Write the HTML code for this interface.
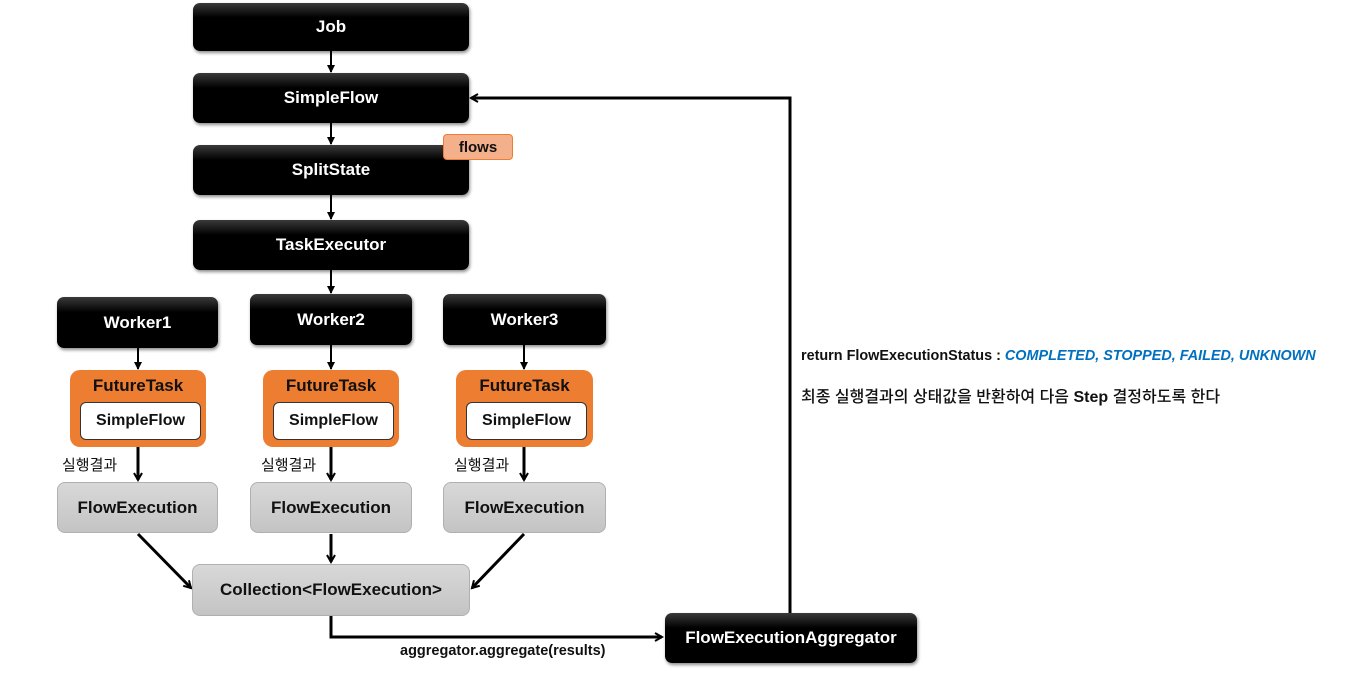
<!DOCTYPE html>
<html><head><meta charset="utf-8"><style>
html,body{margin:0;padding:0;background:#fff;}
body{width:1366px;height:691px;position:relative;overflow:hidden;font-family:"Liberation Sans","Noto Sans CJK KR",sans-serif;}
.b{position:absolute;box-sizing:border-box;display:flex;align-items:center;justify-content:center;font-weight:bold;font-size:17px;}
.k{background:linear-gradient(#3a3a3a 0%,#000 30%,#000 100%);color:#fff;border-radius:7px;box-shadow:1px 2px 3px rgba(0,0,0,.45);}
.g{background:linear-gradient(#d8d8d8,#c4c4c4);color:#111;border:1px solid #b0b0b0;border-radius:8px;}
.o{background:#ed7d31;border-radius:10px;align-items:flex-start;padding-top:6px;color:#111;}
.w{background:#fff;border:1.5px solid #333;border-radius:6px;color:#111;font-size:16px;}
.t{position:absolute;font-size:15px;color:#111;white-space:nowrap;}
svg{position:absolute;left:0;top:0;}
</style></head><body>
<svg width="1366" height="691">
<defs><marker id="a" markerWidth="10" markerHeight="10" refX="8" refY="5" orient="auto" markerUnits="userSpaceOnUse"><path d="M1,1 L8,5 L1,9" fill="none" stroke="#000" stroke-width="2"/></marker>
<marker id="s" markerWidth="8" markerHeight="8" refX="7" refY="4" orient="auto" markerUnits="userSpaceOnUse"><path d="M0,0 L8,4 L0,8Z" fill="#000"/></marker></defs>
<g stroke="#000" stroke-width="2" fill="none">
<line x1="331" y1="51" x2="331" y2="72" marker-end="url(#s)"/>
<line x1="331" y1="123" x2="331" y2="144" marker-end="url(#s)"/>
<line x1="331" y1="195" x2="331" y2="219" marker-end="url(#s)"/>
<line x1="331" y1="270" x2="331" y2="293" marker-end="url(#s)"/>
<line x1="138" y1="348" x2="138" y2="369" marker-end="url(#s)"/>
<line x1="331" y1="345" x2="331" y2="369" marker-end="url(#s)"/>
<line x1="524" y1="345" x2="524" y2="369" marker-end="url(#s)"/>
</g>
<g stroke="#000" stroke-width="3" fill="none">
<line x1="138" y1="447" x2="138" y2="480" marker-end="url(#a)"/>
<line x1="331" y1="447" x2="331" y2="480" marker-end="url(#a)"/>
<line x1="524" y1="447" x2="524" y2="480" marker-end="url(#a)"/>
<line x1="138" y1="534" x2="191" y2="588" marker-end="url(#a)"/>
<line x1="331" y1="534" x2="331" y2="562" marker-end="url(#a)"/>
<line x1="524" y1="534" x2="472" y2="588" marker-end="url(#a)"/>
<polyline points="331,616 331,637 662,637" marker-end="url(#a)"/>
<polyline points="790,613 790,98 471,98" marker-end="url(#a)"/>
</g>
</svg>
<div class="b k" style="left:193px;top:3px;width:276px;height:48px;">Job</div>
<div class="b k" style="left:193px;top:73px;width:276px;height:50px;">SimpleFlow</div>
<div class="b k" style="left:193px;top:145px;width:276px;height:50px;">SplitState</div>
<div class="b" style="left:443px;top:134px;width:70px;height:26px;background:#f4b08a;border:1px solid #ed7d31;border-radius:4px;font-size:15px;color:#111;">flows</div>
<div class="b k" style="left:193px;top:220px;width:276px;height:50px;">TaskExecutor</div>
<div class="b k" style="left:57px;top:297px;width:161px;height:51px;">Worker1</div>
<div class="b k" style="left:250px;top:294px;width:162px;height:51px;">Worker2</div>
<div class="b k" style="left:443px;top:294px;width:163px;height:51px;">Worker3</div>
<div class="b o" style="left:70px;top:370px;width:136px;height:77px;">FutureTask</div>
<div class="b w" style="left:80px;top:402px;width:121px;height:38px;">SimpleFlow</div>
<div class="b o" style="left:263px;top:370px;width:136px;height:77px;">FutureTask</div>
<div class="b w" style="left:273px;top:402px;width:121px;height:38px;">SimpleFlow</div>
<div class="b o" style="left:456px;top:370px;width:137px;height:77px;">FutureTask</div>
<div class="b w" style="left:466px;top:402px;width:121px;height:38px;">SimpleFlow</div>
<div class="t" style="left:62px;top:454px;">실행결과</div>
<div class="t" style="left:261px;top:454px;">실행결과</div>
<div class="t" style="left:454px;top:454px;">실행결과</div>
<div class="b g" style="left:57px;top:482px;width:161px;height:51px;">FlowExecution</div>
<div class="b g" style="left:250px;top:482px;width:162px;height:51px;">FlowExecution</div>
<div class="b g" style="left:443px;top:482px;width:163px;height:51px;">FlowExecution</div>
<div class="b g" style="left:192px;top:564px;width:278px;height:52px;">Collection&lt;FlowExecution&gt;</div>
<div class="b k" style="left:665px;top:613px;width:252px;height:50px;">FlowExecutionAggregator</div>
<div class="t" style="left:400px;top:643px;font-size:14.5px;font-weight:bold;">aggregator.aggregate(results)</div>
<div class="t" style="left:801px;top:348px;font-size:14.4px;font-weight:bold;">return FlowExecutionStatus : <span style="color:#0070c0;font-style:italic;">COMPLETED, STOPPED, FAILED, UNKNOWN</span></div>
<div class="t" style="left:801px;top:383px;font-size:16px;font-weight:500;">최종 실행결과의 상태값을 반환하여 다음 <b>Step</b> 결정하도록 한다</div>
</body></html>
